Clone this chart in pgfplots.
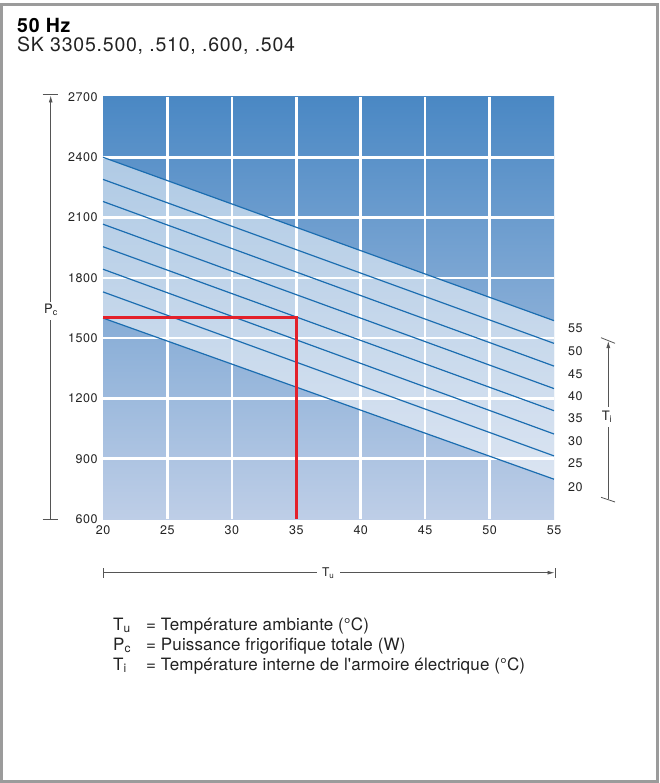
\documentclass[border=0pt]{standalone}
\usepackage{fontspec}
\setmainfont{TeX Gyre Heros}[LetterSpace=4]
\newfontfamily\legfont{TeX Gyre Heros}[LetterSpace=0.8]
\usepackage{pgfplots}
\pgfplotsset{compat=1.18}
\usetikzlibrary{arrows.meta}
\definecolor{bgtop}{HTML}{4A88C4}
\definecolor{bgbot}{HTML}{BECEE7}
\definecolor{lineblue}{HTML}{1B6DB0}
\definecolor{redline}{HTML}{E3202A}
\definecolor{framegray}{HTML}{9B9B9B}
\definecolor{txt}{HTML}{222222}
\definecolor{arr}{HTML}{555555}
\begin{document}
\begin{tikzpicture}
\useasboundingbox (0pt,0pt) rectangle (659pt,-783pt);
\draw[framegray, line width=3pt] (1.3pt,-4.2pt) rectangle (657.7pt,-781.4pt);
\node[anchor=base west, inner sep=0, text=black, font=\fontsize{19.5}{21}\selectfont\bfseries] at (17pt,-33pt) {50 Hz};
\node[anchor=base west, inner sep=0, text=txt, font=\fontsize{19.5}{21}\selectfont] at (17pt,-52pt) {SK 3305.500, .510, .600, .504};
\begin{axis}[
  at={(103pt,-519pt)}, anchor=south west,
  scale only axis, width=451pt, height=422pt,
  xmin=20, xmax=55, ymin=600, ymax=2700,
  xtick={25,30,...,50}, ytick={900,1200,...,2400},
  extra x ticks={20,55}, extra y ticks={600,2700},
  extra tick style={grid=none},
  grid=major, grid style={white, line width=2.5pt},
  axis line style={draw=none},
  major tick length=0pt,
  tick style={draw=none},
  axis background/.style={top color=bgtop, bottom color=bgbot},
  ticklabel style={font=\fontsize{12.5}{14}\selectfont, text=txt},
  /pgf/number format/assume math mode=true,
  /pgf/number format/1000 sep={},
  xticklabel style={anchor=north, yshift=-3pt},
  yticklabel style={anchor=east, xshift=-2pt},
  clip=false,
]
\addplot[draw=none, fill=white, fill opacity=0.52] coordinates {(20,2400) (55,1587) (55,798) (20,1600)} -- cycle;
\addplot[lineblue, line width=1.2pt] coordinates {(20,2400) (55,1587)};
\addplot[lineblue, line width=1.2pt] coordinates {(20,2290) (55,1474)};
\addplot[lineblue, line width=1.2pt] coordinates {(20,2180) (55,1361)};
\addplot[lineblue, line width=1.2pt] coordinates {(20,2067) (55,1249)};
\addplot[lineblue, line width=1.2pt] coordinates {(20,1955) (55,1139)};
\addplot[lineblue, line width=1.2pt] coordinates {(20,1843) (55,1023)};
\addplot[lineblue, line width=1.2pt] coordinates {(20,1730) (55,914)};
\addplot[lineblue, line width=1.2pt] coordinates {(20,1600) (55,798)};
\addplot[redline, line width=2.6pt, line join=miter] coordinates {(20,1602) (35,1602) (35,600)};
\begin{scope}[every node/.style={anchor=west, inner sep=0, xshift=14pt, yshift=-7.6pt, text=txt, font=\fontsize{12.5}{14}\selectfont}]
\node at (axis cs:55,1587) {55};
\node at (axis cs:55,1474) {50};
\node at (axis cs:55,1361) {45};
\node at (axis cs:55,1249) {40};
\node at (axis cs:55,1139) {35};
\node at (axis cs:55,1023) {30};
\node at (axis cs:55,914) {25};
\node at (axis cs:55,798) {20};
\end{scope}
\end{axis}
% left arrow P_c
\draw[arr, line width=0.8pt] (50.7pt,-519pt) -- (50.7pt,-320pt);
\draw[arr, line width=0.8pt, -{Latex[length=7pt,width=4pt]}] (50.7pt,-301.7pt) -- (50.7pt,-95.5pt);
\draw[arr, line width=0.8pt] (42.7pt,-94.7pt) -- (58.3pt,-94.7pt);
\draw[arr, line width=0.8pt] (42.7pt,-519pt) -- (58.3pt,-519pt);
\node[text=txt, font=\fontsize{13}{15}\selectfont, inner sep=0] at (51pt,-310pt) {P\textsubscript{c}};
% right arrow T_i
\draw[arr, line width=0.8pt] (608.3pt,-499.3pt) -- (608.3pt,-427pt);
\draw[arr, line width=0.8pt, -{Latex[length=7pt,width=4pt]}] (608.3pt,-406.7pt) -- (608.3pt,-341pt);
\draw[arr, line width=0.8pt] (601pt,-337.7pt) -- (615pt,-343.3pt);
\draw[arr, line width=0.8pt] (601pt,-497.3pt) -- (615pt,-502pt);
\node[text=txt, font=\fontsize{13}{15}\selectfont, inner sep=0] at (607pt,-416.7pt) {T\textsubscript{i}};
% bottom arrow T_u
\draw[arr, line width=0.8pt] (103.3pt,-572.7pt) -- (317pt,-572.7pt);
\draw[arr, line width=0.8pt, -{Latex[length=7pt,width=4pt]}] (340pt,-572.7pt) -- (554.5pt,-572.7pt);
\draw[arr, line width=0.8pt] (103.3pt,-568pt) -- (103.3pt,-578pt);
\draw[arr, line width=0.8pt] (555pt,-568pt) -- (555pt,-578pt);
\node[text=txt, font=\fontsize{12}{14}\selectfont, inner sep=0] at (328.3pt,-573pt) {T\textsubscript{u}};
% legend
\begin{scope}[every node/.style={anchor=base west, inner sep=0, text=txt, font=\legfont\fontsize{17}{20}\selectfont}]
\node at (113pt,-630pt) {T\textsubscript{u}};
\node at (146pt,-630pt) {= Température ambiante (°C)};
\node at (113pt,-650pt) {P\textsubscript{c}};
\node at (146pt,-650pt) {= Puissance frigorifique totale (W)};
\node at (113pt,-670pt) {T\textsubscript{i}};
\node at (146pt,-670pt) {= Température interne de l'armoire électrique (°C)};
\end{scope}
\end{tikzpicture}
\end{document}
